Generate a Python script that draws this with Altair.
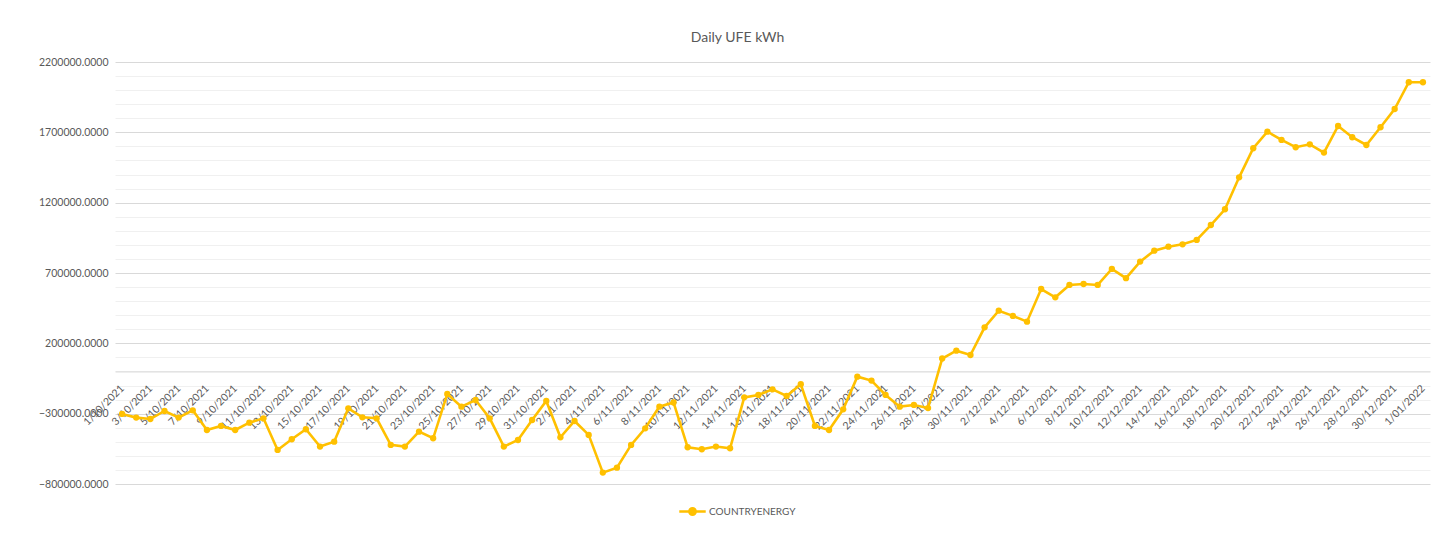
import altair as alt
import pandas as pd

# Daily dates 1/10/2021 .. 1/01/2022 (d/mm/yyyy as in the source)
dates = [f"{d.day}/{d.month:02d}/{d.year}" for d in pd.date_range("2021-10-01", "2022-01-01", freq="D")]

values_oct = [-302000, -328000, -338000, -281000, -328000, -276000, -416000, -387000, -416000, -364000,
              -333000, -558000, -482000, -411000, -534000, -499000, -262000, -326000, -333000, -522000,
              -534000, -428000, -475000, -160000, -250000, -203000, -333000, -534000, -487000, -345000,
              -210000]
values_nov = [-468000, -352000, -451000, -719000, -684000, -522000, -404000, -250000, -220000, -539000,
              -553000, -534000, -546000, -184000, -167000, -127000, -174000, -91000, -387000, -416000,
              -269000, -37000, -65000, -167000, -250000, -238000, -260000, 92000, 148000, 117000]
values_dec = [314000, 432000, 395000, 354000, 586000, 527000, 615000, 622000, 615000, 729000,
              663000, 781000, 859000, 887000, 904000, 935000, 1041000, 1153000, 1380000, 1587000,
              1705000, 1646000, 1594000, 1615000, 1556000, 1745000, 1665000, 1610000, 1736000, 1866000,
              2056000]
values_jan = [2056000]

series_name = "COUNTRYENERGY"
y_major = [-800000, -300000, 200000, 700000, 1200000, 1700000, 2200000]
y_minor = [v for v in range(-800000, 2200001, 100000) if v not in y_major]

values = values_oct + values_nov + values_dec + values_jan
df = pd.DataFrame({"date": dates, "value": values, "series": series_name})

W, H = 1315, 422
ymin, ymax = -800000, 2200000
x_offset = -(0 - ymin) / (ymax - ymin) * H

FONT = "Lato"
TXT = "#595959"
GOLD = "#FFC000"

xenc = alt.X("date:O", sort=dates,
             scale=alt.Scale(type="point", padding=0.5),
             axis=alt.Axis(values=dates[::2], orient="bottom", offset=x_offset,
                           labelAngle=315, labelAlign="right", labelBaseline="middle",
                           labelPadding=15, labelFontSize=10.5, labelColor=TXT, labelFont=FONT,
                           labelOverlap=False, labelBound=False, labelFlush=False,
                           ticks=False, domainColor="#d9d9d9", domainWidth=1, grid=False, title=None))

yscale = alt.Scale(domain=[ymin, ymax], nice=False, zero=False)

line = alt.Chart(df).mark_line(strokeWidth=2.6).encode(
    x=xenc,
    y=alt.Y("value:Q", scale=yscale,
            axis=alt.Axis(values=y_major, format=".4f", grid=True, gridColor="#d9d9d9",
                          domain=False, ticks=False, labelPadding=7, labelFontSize=10.5,
                          labelColor=TXT, labelFont=FONT, title=None)),
    color=alt.Color("series:N",
                    scale=alt.Scale(domain=[series_name], range=[GOLD]),
                    legend=alt.Legend(title=None, orient="none", legendX=563, legendY=435,
                                      direction="horizontal",
                                      symbolType="M-1,0H1M-0.24,0A0.24,0.24,0,1,1,0.24,0A0.24,0.24,0,1,1,-0.24,0",
                                      symbolSize=700, symbolStrokeWidth=2.5,
                                      symbolFillColor=GOLD, symbolStrokeColor=GOLD,
                                      labelFontSize=10, labelColor=TXT, labelFont=FONT, labelOffset=2)),
)

pts = alt.Chart(df).mark_point(filled=True, size=40, opacity=1, color=GOLD).encode(
    x=xenc,
    y=alt.Y("value:Q", scale=yscale,
            axis=alt.Axis(values=y_minor, orient="right", grid=True, gridColor="#f0f0f0",
                          labels=False, domain=False, ticks=False, title=None)),
)

chart = alt.layer(pts, line).resolve_axis(y="independent").resolve_scale(y="shared").properties(
    width=W, height=H,
    autosize=alt.AutoSizeParams(type="none"),
    padding={"left": 107, "top": 54, "right": 9, "bottom": 52},
    title=alt.TitleParams("Daily UFE kWh", fontSize=14, font=FONT, color=TXT, fontWeight="normal",
                          anchor="middle", dx=-35, offset=12),
    background="white",
).configure_view(stroke=None)

chart.save("out.html", embed_options={"renderer": "svg", "actions": False})
